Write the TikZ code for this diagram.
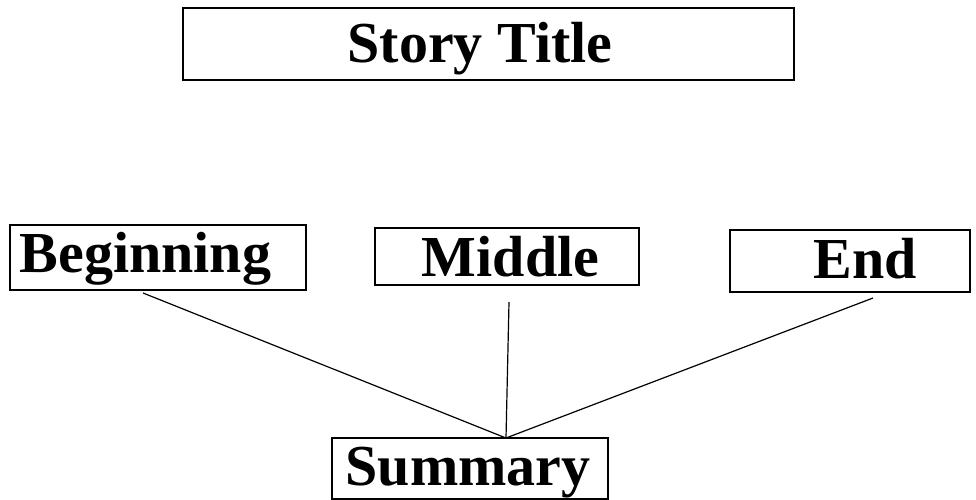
\documentclass[tikz,border=0pt]{standalone}
\usepackage{fontspec}
\setmainfont{Liberation Serif}
\begin{document}
\begin{tikzpicture}[x=1pt,y=-1pt,
  box/.style={draw,line width=1.6pt,inner sep=0pt,text height=38pt,text depth=0pt,
    font=\fontsize{58}{62}\selectfont\bfseries},
  link/.style={line width=1.2pt}]
\useasboundingbox (0,0) rectangle (976,500);
\node[box,minimum width=611pt,minimum height=72pt] (title) at (488.5,44) {\hspace*{-17pt}Story Title};
\node[box,minimum width=296pt,minimum height=65pt] (beg) at (158,257.5) {\hspace*{-25pt}\raisebox{4pt}{Beginning}};
\node[box,minimum width=264pt,minimum height=57pt] (mid) at (507,256.5) {\hspace*{7pt}\raisebox{-1pt}{Middle}};
\node[box,minimum width=240pt,minimum height=62pt] (end) at (850,261) {\hspace*{30pt}\raisebox{2pt}{End}};
\node[box,minimum width=276pt,minimum height=61pt] (sum) at (470,468.5) {\hspace*{-4pt}\raisebox{2pt}{Summary}};
\coordinate (hub) at (506,438);
\coordinate (b1) at (143,293);
\coordinate (m1) at (509,302);
\coordinate (e1) at (873,298);
\draw[link] (b1) -- (hub);
\draw[link] (m1) -- (hub);
\draw[link] (e1) -- (hub);
\end{tikzpicture}
\end{document}
